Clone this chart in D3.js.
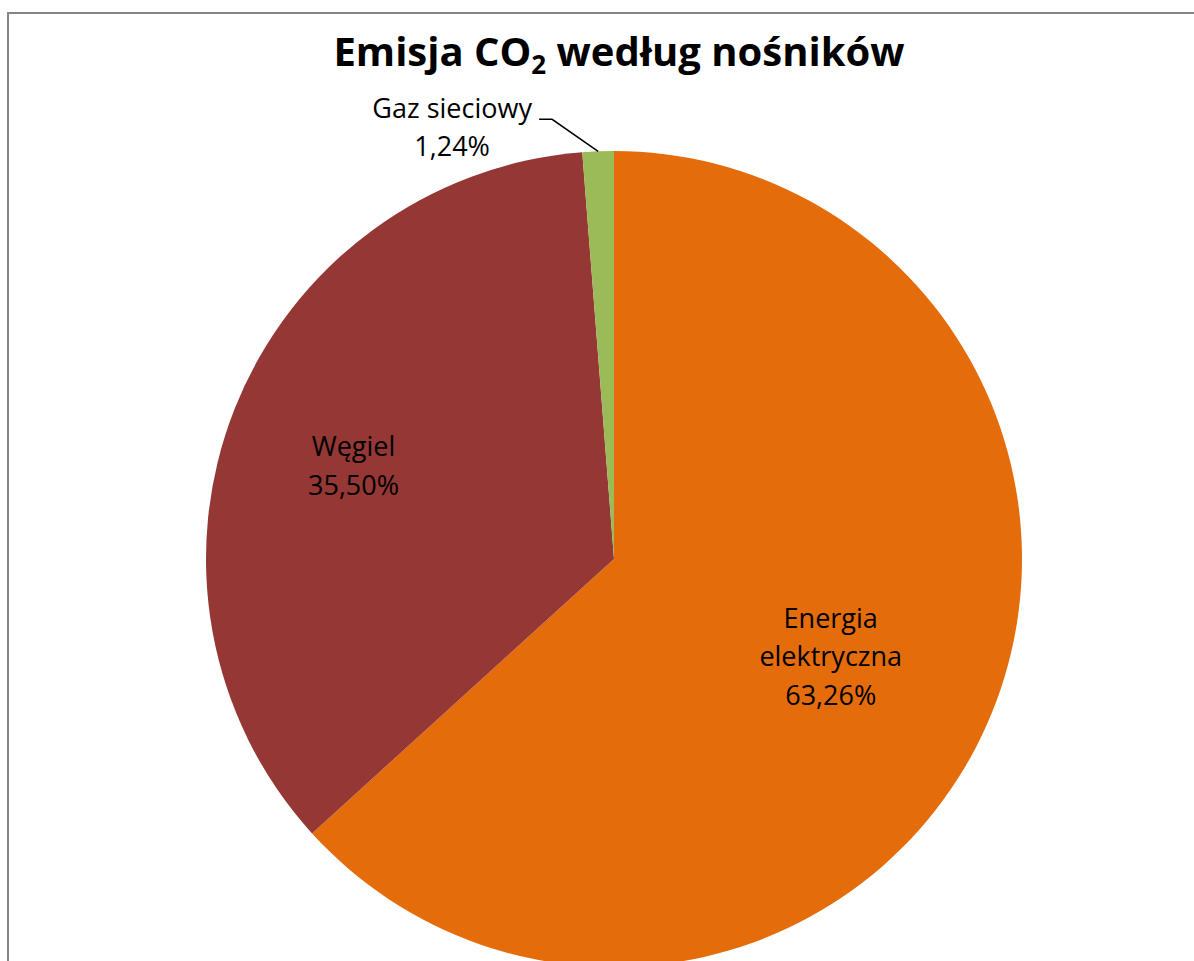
<!DOCTYPE html>
<html>
<head>
<meta charset="utf-8">
<script src="https://cdn.jsdelivr.net/npm/d3@7"></script>
<style>
  body { margin: 0; background: #fff; }
  text { font-family: "Open Sans", "Noto Sans", sans-serif; }
</style>
</head>
<body>
<div id="chart-area"></div>
<script>
// data
const categories = ['Energia elektryczna', 'Węgiel', 'Gaz sieciowy'];
const values = [63.26, 35.50, 1.24];
const labelLines = [['Energia', 'elektryczna', '63,26%'], ['Węgiel', '35,50%'], ['Gaz sieciowy', '1,24%']];
const colors = ['#E46C0A', '#953735', '#9BBB59'];

const width = 1194;
const height = 961;
const cx = 614, cy = 559, radius = 408;

const svg = d3.select('#chart-area').append('svg')
  .attr('width', width)
  .attr('height', height);

// chart frame (runs off the right and bottom)
svg.append('rect')
  .attr('x', 8)
  .attr('y', 13)
  .attr('width', 1400)
  .attr('height', 1200)
  .attr('fill', 'none')
  .attr('stroke', '#868686')
  .attr('stroke-width', 2);

// title
const title = svg.append('text')
  .attr('x', 619)
  .attr('y', 66)
  .attr('text-anchor', 'middle')
  .attr('font-size', '40px')
  .attr('font-weight', 'bold');
title.append('tspan').text('Emisja CO');
title.append('tspan').attr('font-size', '26px').attr('dy', 8).text('2');
title.append('tspan').attr('dy', -8).text(' według nośników');

const chart = svg.append('g')
  .attr('transform', `translate(${cx},${cy})`);

const pie = d3.pie().sort(null).value(d => d)(values);
const arc = d3.arc().innerRadius(0).outerRadius(radius);

chart.selectAll('path')
  .data(pie)
  .enter().append('path')
    .attr('d', arc)
    .attr('fill', (d, i) => colors[i]);

// label distance from centre and small nudges (inside labels)
const labelRadius = [237, 277];
const labelNudge = [[0, 2], [-3, 9]];
const lineH = 38.5;

pie.forEach(function(d, i) {
  const lines = labelLines[i];
  let lx, ly;
  if (i < 2) {
    const c = d3.arc().innerRadius(labelRadius[i]).outerRadius(labelRadius[i]).centroid(d);
    lx = c[0] + labelNudge[i][0];
    ly = c[1] + labelNudge[i][1];
  } else {
    // outside label with leader line
    const p = d3.arc().innerRadius(radius).outerRadius(radius).centroid(d);
    const elbow = [p[0] - 46, p[1] - 32];
    chart.append('polyline')
      .attr('points', [p, elbow, [elbow[0] - 13, elbow[1]]].map(q => q.join(',')).join(' '))
      .attr('fill', 'none')
      .attr('stroke', '#000')
      .attr('stroke-width', 1.5);
    lx = elbow[0] - 13 - 87;
    ly = elbow[1] + 8;
  }
  const t = chart.append('text')
    .attr('text-anchor', 'middle')
    .attr('font-size', '27px')
    .attr('fill', '#000');
  const top = ly - (lines.length - 1) * lineH / 2;
  lines.forEach(function(s, k) {
    t.append('tspan')
      .attr('x', lx)
      .attr('y', top + k * lineH)
      .attr('dy', '0.35em')
      .text(s);
  });
});
</script>
</body>
</html>
